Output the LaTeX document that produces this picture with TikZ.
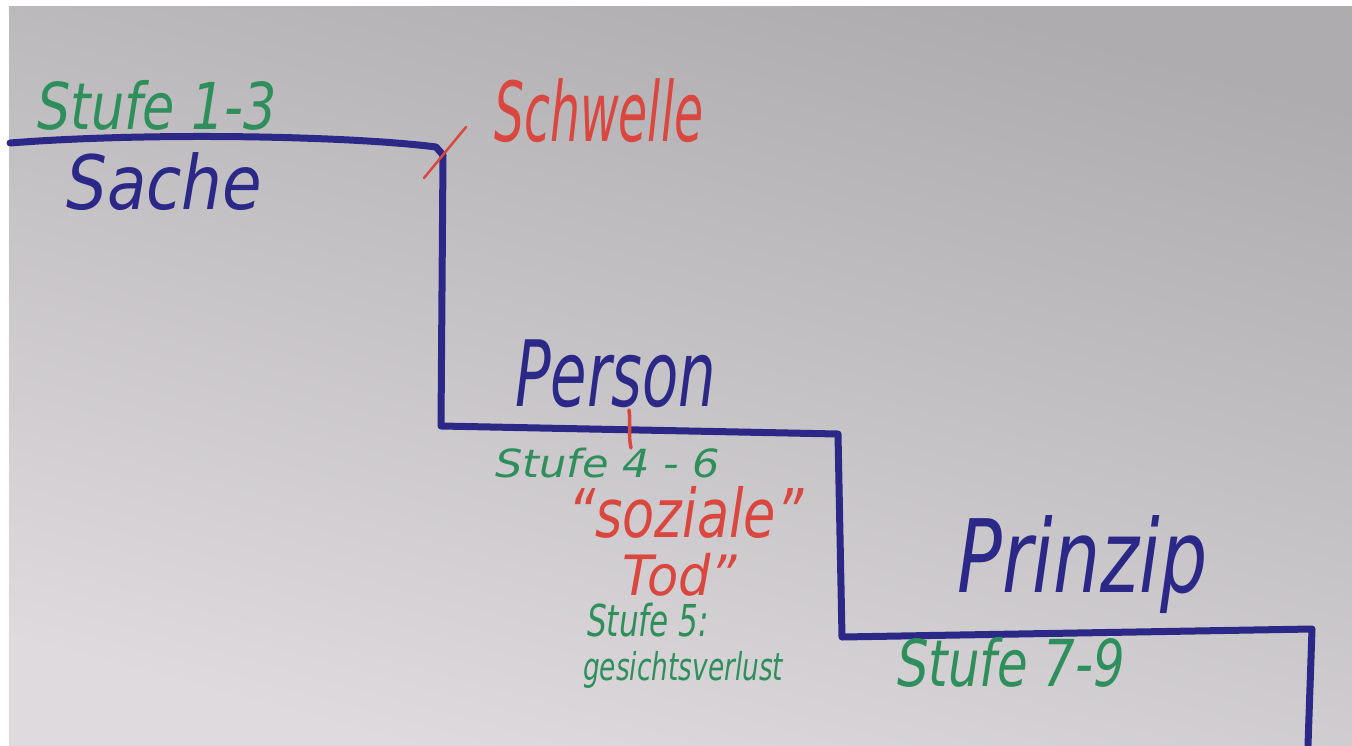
\documentclass[tikz,border=0pt]{standalone}
\usepackage{fontspec}
\setmainfont{DejaVu Sans}
\usepackage{graphicx}
\definecolor{inkblue}{HTML}{2B2888}
\definecolor{inkgreen}{HTML}{2F8F5C}
\definecolor{inkred}{HTML}{D9473F}
\definecolor{bgtop}{HTML}{AEACAF}
\definecolor{bgbot}{HTML}{DEDADD}
\newcommand\hwtext[3]{\resizebox*{#1pt}{#2pt}{\itshape #3}}
\tikzset{
  hand/.style={inner sep=0pt, anchor=north west},
  bluetext/.style={hand, text=inkblue},
  greentext/.style={hand, text=inkgreen},
  redtext/.style={hand, text=inkred},
  stair/.style={draw=inkblue, line width=7pt, line join=round, line cap=round},
  tick/.style={draw=inkred, line width=2.5pt, line cap=round}
}
\begin{document}
\begin{tikzpicture}[x=1pt,y=-1pt]
\useasboundingbox (0,0) rectangle (1352,745);
\fill[white] (0,0) rectangle (1352,745);
\shade[top color=bgtop, bottom color=bgbot, shading angle=-15] (9,6) rectangle (1352,745);
% staircase
\draw[stair] (10,143) .. controls (150,132) and (350,136) .. (436,147)
  -- (443,155) -- (441,426) -- (838,434) -- (842,637) -- (1312,629) -- (1308,745);
% red ticks
\draw[tick] (424,178) -- (466,127);
\draw[tick, line width=3.5pt] (629,410) .. controls (631,425) and (628,435) .. (631,448);
% texts
\node[greentext] (s13) at (37,80) {\hwtext{240}{50}{Stufe 1-3}};
\node[bluetext] (sache) at (66,152) {\hwtext{196}{58}{Sache}};
\node[redtext] (schwelle) at (494,78) {\hwtext{209}{64}{Schwelle}};
\node[bluetext] (person) at (515,340) {\hwtext{201}{68}{Person}};
\node[greentext] (s46) at (495,448) {\hwtext{225}{30}{Stufe 4 - 6}};
\node[redtext] (soziale) at (568,486) {\hwtext{235}{52}{\textquotedblleft soziale\textquotedblright}};
\node[redtext] (tod) at (622,553) {\hwtext{115}{43}{Tod\textquotedblright}};
\node[greentext] (s5) at (587,603) {\hwtext{122}{34}{Stufe 5:}};
\node[greentext] (gv) at (583,651) {\hwtext{200}{37}{gesichtsverlust}};
\node[bluetext] (prinzip) at (957,515) {\hwtext{250}{98}{Prinzip}};
\node[greentext] (s79) at (897,637) {\hwtext{228}{50}{Stufe 7-9}};
\end{tikzpicture}
\end{document}
